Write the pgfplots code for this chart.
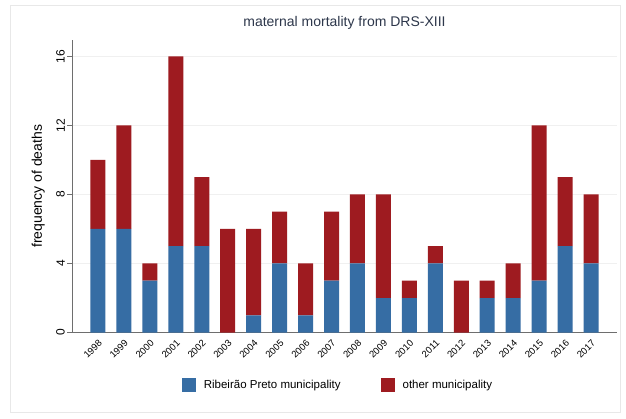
\documentclass[border=0pt]{standalone}
\usepackage{fontspec}
\setmainfont{Liberation Sans}
\usepackage{pgfplots}
\usepackage{pgfplotstable}
\pgfplotsset{compat=1.18}
\definecolor{rpblue}{RGB}{54,109,164}
\definecolor{othred}{RGB}{158,27,32}
\definecolor{titlecol}{RGB}{45,55,75}
\definecolor{axcol}{RGB}{110,110,110}

% deaths per year: Ribeirao Preto / other municipalities
\pgfplotstableread{
x year rp other
0 1998 6 4
1 1999 6 6
2 2000 3 1
3 2001 5 11
4 2002 5 4
5 2003 0 6
6 2004 1 5
7 2005 4 3
8 2006 1 3
9 2007 3 4
10 2008 4 4
11 2009 2 6
12 2010 2 1
13 2011 4 1
14 2012 0 3
15 2013 2 1
16 2014 2 2
17 2015 3 9
18 2016 5 4
19 2017 4 4
}\deaths

\begin{document}
\begin{tikzpicture}[x=1pt,y=1pt]
\path[fill=white] (0,0) rectangle (626,418);
\draw[gray!18, line width=1pt] (10,6) rectangle (620,412);
\begin{axis}[
    at={(72pt,85.5pt)}, anchor=south west,
    scale only axis,
    width=545pt, height=292.4pt,
    ybar stacked, bar width=15pt,
    xmin=-1, xmax=20,
    ymin=0, ymax=16.95,
    xtick={0,...,19},
    xticklabels from table={\deaths}{year},
    ytick={0,4,8,12,16},
    axis x line*=bottom, axis y line*=left,
    axis line style={-, draw=axcol, line width=0.8pt},
    tick align=outside,
    x tick style={draw=none},
    major tick length=5pt,
    y tick style={draw=axcol, line width=0.6pt},
    ymajorgrids,
    grid style={gray!12, line width=0.8pt},
    /pgf/number format/assume math mode=true,
    yticklabel style={rotate=90, anchor=south, font=\fontsize{12}{14}\selectfont, inner sep=2pt},
    xticklabel style={rotate=45, anchor=north east, font=\fontsize{9.5}{11}\selectfont, inner sep=1pt},
    ylabel={frequency of deaths},
    ylabel style={at={(axis description cs:-0.062,0.5)}, anchor=center, font=\fontsize{14}{16}\selectfont},
    title={maternal mortality from DRS-XIII},
    title style={at={(axis description cs:0.5,1.038)}, anchor=center, font=\fontsize{14}{16}\selectfont, text=titlecol},
    legend style={at={(0.488,-0.1795)}, anchor=center, draw=none, fill=none,
        legend columns=2, font=\fontsize{11.5}{13}\selectfont,
        /tikz/every odd column/.append style={column sep=6pt},
        /tikz/every even column/.append style={column sep=38pt}},
    legend image code/.code={\fill[#1, draw=none] (0pt,-7pt) rectangle (14pt,7pt);},
]
\addplot[fill=rpblue, draw=none] table[x=x, y=rp] {\deaths};
\addlegendentry{Ribeirão Preto municipality}
\addplot[fill=othred, draw=none] table[x=x, y=other] {\deaths};
\addlegendentry{other municipality}
\end{axis}
\end{tikzpicture}
\end{document}
